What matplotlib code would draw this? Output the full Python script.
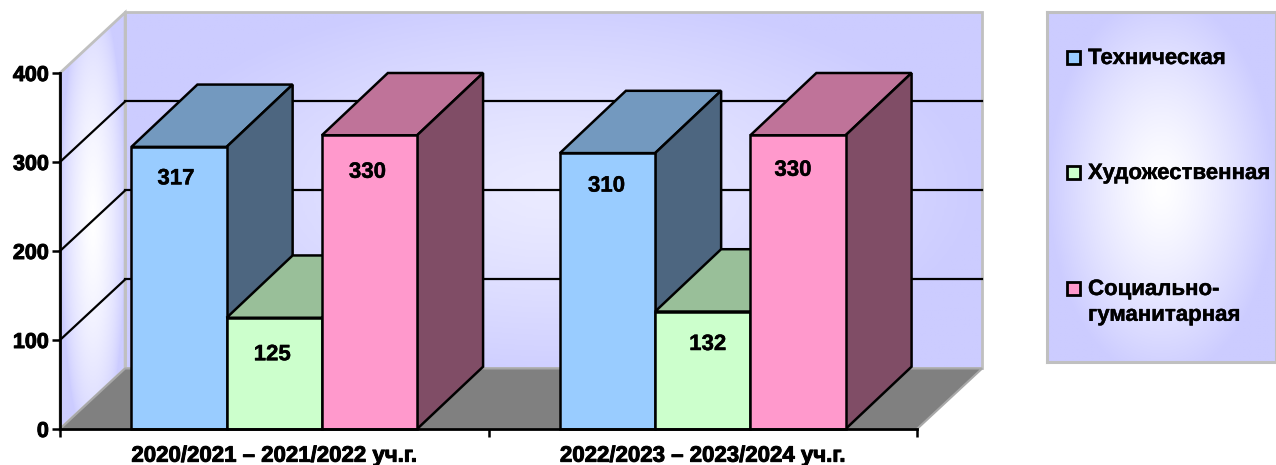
#!/usr/bin/env python3
import matplotlib
matplotlib.use("Agg")
import matplotlib.patheffects as pe
import matplotlib.pyplot as plt
import numpy as np
from matplotlib.colors import LinearSegmentedColormap, to_rgb
from matplotlib.patches import Polygon, Rectangle

plt.rcParams["font.family"] = ["Liberation Sans", "DejaVu Sans"]

categories = ["2020/2021 – 2021/2022 уч.г.", "2022/2023 – 2023/2024 уч.г."]
series_names = ["Техническая", "Художественная", "Социально-\nгуманитарная"]
technical = [317, 310]
artistic = [125, 132]
humanities = [330, 330]
y_ticks = [0, 100, 200, 300, 400]

W, H = 1276, 465
BAR_W = 1 / 4.5
DX, DY = 0.152, 68  # depth of the fake 3d box, in data units
BAR_DX, BAR_DY = 0.154, 70
colors = ["#99CCFF", "#CCFFCC", "#FF99CC"]
wall_cmap = LinearSegmentedColormap.from_list("wall", ["#CCCCFF", "#FFFFFF"])
BOLD = [pe.withStroke(linewidth=0.7, foreground="black")]
# label nudges in pixels, the labels are not centred in the original
label_dx = [[-3, -2, -2], [-1, 5, -5]]
label_drop = [[32, 37, 37], [33, 33, 35]]


def shade(color, k):
    return tuple(c * k for c in to_rgb(color))


def glow(nx=200, ny=200):
    # white in the middle, fading to the wall colour at the edges
    u, v = np.meshgrid(np.linspace(-1, 1, nx), np.linspace(-1, 1, ny))
    return np.clip(1 - np.hypot(u, v * 0.9) ** 1.3, 0, 1)


def wall(ax, pts, img, extent):
    poly = Polygon(pts, closed=True, fc="none", ec="#C0C0C0", lw=2, clip_on=False, zorder=1.2)
    ax.add_patch(poly)
    im = ax.imshow(img, cmap=wall_cmap, vmin=0, vmax=1, extent=extent, aspect="auto", zorder=1)
    im.set_clip_path(poly)
    im.set_clip_box(ax.figure.bbox)


fig = plt.figure(figsize=(W / 100, H / 100), dpi=100)
ax = fig.add_axes([60 / W, 1 - 429 / H, 857 / W, 356 / H])
ax.patch.set_visible(False)

# walls and floor
wall(ax, [(DX, DY), (2 + DX, DY), (2 + DX, 400 + DY), (DX, 400 + DY)], glow() * 0.6, (DX, 2 + DX, DY, 400 + DY))
wall(ax, [(0, 0), (DX, DY), (DX, 400 + DY), (0, 400)], glow(60, 200) ** 0.7, (0, DX, 0, 400 + DY))
ax.add_patch(Polygon([(0, 0), (2, 0), (2 + DX, DY), (DX, DY)], closed=True, fc="#808080", ec="#A8A8A8", lw=1.5,
                     clip_on=False, zorder=1.3))

# gridlines, along the side wall and the back wall
for t in y_ticks[1:-1]:
    ax.plot([0, DX], [t, t + DY], color="black", lw=1.6, clip_on=False, zorder=1.5)
    ax.plot([DX, 2 + DX], [t + DY, t + DY], color="black", lw=1.6, clip_on=False, zorder=1.5)

x_pos = np.array([0.5, 1.5])
for g, x0 in enumerate(x_pos):
    for s, values in enumerate([technical, artistic, humanities]):
        v = values[g]
        left = x0 + (s - 1.5) * BAR_W
        right = left + BAR_W
        z = 2 + g + s * 0.1
        top = [(left, v), (right, v), (right + BAR_DX, v + BAR_DY), (left + BAR_DX, v + BAR_DY)]
        side = [(right, 0), (right + BAR_DX, BAR_DY), (right + BAR_DX, v + BAR_DY), (right, v)]
        ax.add_patch(Polygon(top, closed=True, fc=shade(colors[s], 0.75), ec="black", lw=1.8, clip_on=False, zorder=z))
        ax.add_patch(Polygon(side, closed=True, fc=shade(colors[s], 0.5), ec="black", lw=1.8, clip_on=False, zorder=z))
        ax.bar(left, v, BAR_W, align="edge", color=colors[s], ec="black", lw=1.8, clip_on=False, zorder=z + 0.01)
        ax.annotate(str(v), (left + BAR_W / 2, v), xytext=(label_dx[g][s], -label_drop[g][s]),
                    textcoords="offset pixels", ha="center", va="center", fontsize=16, fontweight="bold",
                    color="black", zorder=6, path_effects=[pe.withStroke(linewidth=0.3, foreground="black")])

ax.set_xlim(0, 2)
ax.set_ylim(0, 400)
ax.set_xticks([0, 1, 2])
ax.set_xticklabels([])
ax.set_xticks(x_pos, categories, minor=True, fontsize=16, fontweight="bold")
ax.tick_params(axis="x", which="major", length=6, width=1.8, color="black")
ax.tick_params(axis="x", which="minor", length=0, pad=12)
ax.set_yticks(y_ticks)
ax.tick_params(axis="y", length=6, width=1.8, pad=2, labelsize=15.5)
for label in ax.get_yticklabels():
    label.set_fontweight("bold")
    label.set_path_effects(BOLD)
for label in ax.get_xticklabels(minor=True):
    label.set_path_effects(BOLD)
for name in ["top", "right"]:
    ax.spines[name].set_visible(False)
for name in ["left", "bottom"]:
    ax.spines[name].set_linewidth(2)
    ax.spines[name].set_zorder(5)

# legend panel, drawn in its own axes in pixel units
leg = fig.add_axes([1047 / W, 1 - 362 / H, 229 / W, 350 / H])
leg.imshow(glow(), cmap=wall_cmap, vmin=0, vmax=1, extent=(0, 229, 350, 0), aspect="auto")
leg.set_xlim(0, 229)
leg.set_ylim(350, 0)
leg.set_xticks([])
leg.set_yticks([])
for sp in leg.spines.values():
    sp.set_color("#C0C0C0")
    sp.set_linewidth(2.2)
row_y = [45, 160, 276]
for name, color, y in zip(series_names, colors, row_y):
    leg.add_patch(Rectangle((20, y - 6), 13, 13, fc=color, ec="black", lw=2))
    leg.text(41, y - 9, name, ha="left", va="top", fontsize=16, fontweight="bold", linespacing=1.3,
             path_effects=[pe.withStroke(linewidth=0.3, foreground="black")])

fig.savefig("out.png", dpi=100)
